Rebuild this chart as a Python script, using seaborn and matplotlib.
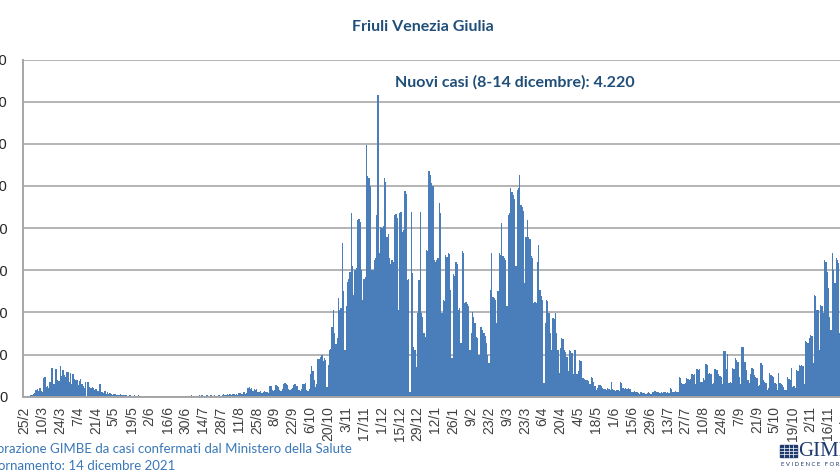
import numpy as np
import pandas as pd
import matplotlib
matplotlib.use("Agg")
import matplotlib.pyplot as plt
import seaborn as sns
from matplotlib.patches import Rectangle
from matplotlib.lines import Line2D

# Nuovi casi giornalieri Friuli Venezia Giulia, 24/2/2020 - 14/12/2021
feb_2020 = [0, 0, 0, 0, 3, 5]
mar_2020 = [6, 8, 12, 18, 30, 38, 28, 40, 25, 22, 90, 95, 45, 50, 40, 70, 135, 134, 60, 130,
            133, 80, 75, 147, 100, 128, 105, 95, 115, 118, 70]
apr_2020 = [112, 60, 110, 85, 80, 78, 55, 75, 82, 60, 50, 40, 70, 72, 68, 45, 42, 48, 40, 30,
            35, 25, 28, 62, 22, 20, 18, 25, 15, 20]
may_2020 = [15, 18, 12, 10, 14, 12, 9, 10, 8, 12, 10, 8, 6, 10, 7, 5, 6, 8, 4, 5,
            7, 3, 4, 6, 3, 2, 4, 5, 2, 3, 1]
jun_2020 = [2, 1, 3, 2, 0, 1, 2, 3, 1, 0, 2, 1, 4, 2, 1, 0, 2, 1, 3, 1,
            0, 1, 2, 1, 0, 3, 1, 2, 0, 1]
jul_2020 = [3, 5, 2, 4, 6, 1, 3, 5, 4, 2, 6, 3, 8, 4, 2, 5, 7, 3, 4, 6,
            2, 5, 8, 4, 3, 6, 9, 5, 10, 12, 8]
aug_2020 = [10, 14, 8, 12, 6, 11, 15, 9, 13, 10, 16, 18, 12, 15, 20, 14, 17, 40, 45, 38,
            42, 25, 36, 34, 38, 22, 20, 25, 18, 22, 28]
sep_2020 = [20, 24, 18, 50, 52, 30, 28, 32, 55, 52, 48, 30, 25, 35, 62, 65, 60, 55, 38, 30,
            35, 40, 56, 58, 50, 52, 30, 28, 35, 60]
oct_2020 = [62, 66, 30, 28, 35, 110, 144, 120, 80, 48, 60, 180, 178, 190, 200, 170, 185, 175, 48, 150,
            222, 225, 333, 412, 300, 250, 280, 467, 410, 420, 728]
nov_2020 = [500, 222, 428, 546, 560, 590, 871, 620, 483, 600, 610, 840, 845, 830, 600, 459, 560, 570, 1195, 1045,
            1040, 1000, 600, 600, 650, 660, 863, 1433, 681, 807]
dec_2020 = [800, 810, 1037, 1020, 760, 770, 660, 630, 650, 640, 860, 865, 850, 412, 870, 875, 780, 790, 974, 960,
            554, 560, 20, 878, 586, 238, 222, 143, 396, 554, 878]
jan_2021 = [396, 380, 300, 285, 697, 690, 1069, 1050, 1013, 1000, 650, 640, 650, 660, 918, 870, 396, 460, 455, 670,
            665, 681, 675, 507, 183, 580, 575, 641, 630, 412, 420]
feb_2021 = [254, 689, 680, 444, 450, 440, 430, 222, 300, 400, 380, 350, 285, 280, 200, 333, 330, 317, 300, 290,
            254, 200, 159, 507, 681, 475, 470, 460]
mar_2021 = [349, 500, 681, 670, 824, 666, 660, 650, 428, 863, 870, 990, 970, 958, 940, 618, 982, 990, 1053, 911,
            900, 880, 539, 760, 840, 760, 750, 666, 660, 444, 450]
apr_2021 = [444, 641, 721, 507, 480, 460, 64, 349, 460, 455, 396, 300, 222, 373, 370, 396, 300, 222, 111, 230,
            278, 275, 222, 210, 190, 120, 222, 215, 206, 110]
may_2021 = [222, 220, 110, 120, 174, 170, 87, 90, 85, 79, 80, 75, 60, 95, 90, 71, 50, 31, 40, 55,
            55, 50, 40, 38, 35, 31, 40, 36, 33, 71, 35]
jun_2021 = [31, 28, 32, 30, 26, 71, 65, 40, 38, 42, 36, 40, 35, 38, 24, 22, 25, 20, 24, 18,
            15, 20, 17, 16, 19, 15, 18, 20, 16, 14]
jul_2021 = [24, 22, 25, 20, 24, 22, 18, 20, 16, 22, 20, 18, 21, 19, 40, 38, 24, 22, 25, 20,
            24, 92, 90, 63, 60, 58, 65, 88, 85, 80, 82]
aug_2021 = [110, 105, 108, 60, 130, 128, 132, 70, 72, 90, 80, 155, 150, 110, 112, 108, 60, 65, 130, 128,
            125, 110, 100, 95, 60, 218, 215, 130, 201, 63, 70]
sep_2021 = [63, 134, 130, 186, 175, 166, 95, 60, 238, 237, 165, 166, 127, 80, 64, 110, 135, 130, 103, 95,
            87, 50, 56, 159, 150, 80, 72, 64, 32, 40]
oct_2021 = [111, 105, 100, 95, 64, 60, 30, 111, 64, 60, 55, 48, 32, 30, 95, 85, 80, 135, 48, 50,
            40, 127, 120, 151, 148, 150, 147, 60, 262, 258, 254]
nov_2021 = [277, 293, 290, 159, 483, 480, 412, 410, 222, 436, 430, 396, 650, 640, 594, 515, 380, 317, 681, 600,
            539, 657, 650, 634, 301, 776, 760, 700, 650, 420]
dec_2021 = [820, 780, 690, 640, 520, 380, 400, 860, 720, 640, 600, 560, 420, 420]

cases = (feb_2020 + mar_2020 + apr_2020 + may_2020 + jun_2020 + jul_2020 + aug_2020
         + sep_2020 + oct_2020 + nov_2020 + dec_2020 + jan_2021 + feb_2021 + mar_2021
         + apr_2021 + may_2021 + jun_2021 + jul_2021 + aug_2021 + sep_2021 + oct_2021
         + nov_2021 + dec_2021)
dates = pd.date_range("2020-02-24", "2021-12-14", freq="D")
y_ticks = [0, 200, 400, 600, 800, 1000, 1200, 1400, 1600]

title = "Friuli Venezia Giulia"
note = "Nuovi casi (8-14 dicembre): 4.220"
source_1 = "Elaborazione GIMBE da casi confermati dal Ministero della Salute"
source_2 = "Aggiornamento: 14 dicembre 2021"

df = pd.DataFrame({"giorno": np.arange(len(dates)), "casi": cases})

bar_color = "#4A7EBB"
navy = "#1F4E79"
grid_gray = "#b4b4b4"

sns.set_style("white")
plt.rcParams["font.family"] = ["Lato", "DejaVu Sans"]

W, H = 840, 472
px_day = 1.276
fig = plt.figure(figsize=(8.4, 4.72), dpi=100)
ax = fig.add_axes([22.7 / W, 1 - 396.7 / H, px_day * len(dates) / W, (396.7 - 59.5) / H])

sns.barplot(data=df, x="giorno", y="casi", color=bar_color, saturation=1,
            width=1.0, linewidth=0, errorbar=None, ax=ax)

ax.set_xlim(-0.5, len(dates) - 0.5)
ax.set_ylim(0, 1600)
ax.set_yticks(y_ticks)
ax.set_yticklabels([str(v) for v in y_ticks])
tick_pos = np.arange(1, len(dates), 14)
ax.set_xticks(tick_pos)
ax.set_xticklabels([f"{d.day}/{d.month}" for d in dates[1::14]],
                   rotation=90, family=["Liberation Sans", "DejaVu Sans"])
for lab in ax.get_yticklabels():
    lab.set_family(["Liberation Sans", "DejaVu Sans"])
ax.set_xlabel("")
ax.set_ylabel("")

ax.yaxis.grid(True, color=grid_gray, linewidth=1.4)
ax.set_axisbelow(True)
for side in ["top", "right"]:
    ax.spines[side].set_visible(False)
for side in ["left", "bottom"]:
    ax.spines[side].set_color("#a6a6a6")
    ax.spines[side].set_linewidth(1.4)
ax.tick_params(axis="x", length=4, width=1, color="#a6a6a6", pad=3,
               labelsize=10, labelcolor="#404040")
ax.tick_params(axis="y", length=2.5, width=1, color="#a6a6a6", pad=8,
               labelsize=10.5, labelcolor="#262626")

fig.text(423 / W, 1 - 27 / H, title, ha="center", va="center",
         fontsize=11.5, fontweight="bold", color=navy)
fig.text(515 / W, 1 - 82 / H, note, ha="center", va="center",
         fontsize=11.5, fontweight="bold", color=navy)
fig.text(-28 / W, 1 - 449 / H, source_1, ha="left", va="center",
         fontsize=9.5, color="#3A78B8")
fig.text(-28 / W, 1 - 466 / H, source_2, ha="left", va="center",
         fontsize=9.5, color="#3A78B8")

# logo GIMBE in basso a destra
logo_navy = "#1F3A6E"
fig.add_artist(Rectangle((780 / W, 1 - 457 / H), 17 / W, 12 / H,
                         transform=fig.transFigure, color=logo_navy))
for i in range(1, 4):
    xg = (780 + i * 4.25) / W
    fig.add_artist(Line2D([xg, xg], [1 - 457 / H, 1 - 445 / H],
                          transform=fig.transFigure, color="white", lw=0.5))
    yg = 1 - (445 + i * 3) / H
    fig.add_artist(Line2D([780 / W, 797 / W], [yg, yg],
                          transform=fig.transFigure, color="white", lw=0.5))
fig.text(798 / W, 1 - 451 / H, "GIMBE", ha="left", va="center",
         fontsize=15, family=["Liberation Serif", "DejaVu Serif"], color=logo_navy)
fig.text(781 / W, 1 - 464 / H, "E V I D E N C E   F O R   H E A L T H", ha="left", va="center",
         fontsize=4.3, color=logo_navy)

fig.savefig("out.png", dpi=100)
plt.close(fig)
